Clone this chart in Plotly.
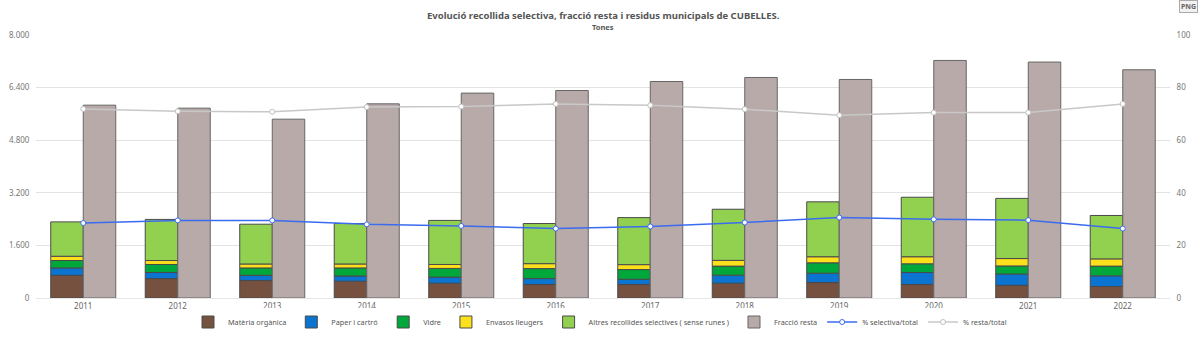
import plotly.graph_objects as go
import numpy as np

years = ["2011", "2012", "2013", "2014", "2015", "2016", "2017", "2018", "2019", "2020", "2021", "2022"]
materia_organica = [690, 590, 530, 510, 450, 410, 410, 450, 470, 410, 385, 350]
paper_cartro = [225, 185, 160, 160, 185, 180, 160, 245, 285, 365, 345, 325]
vidre = [225, 245, 225, 245, 265, 305, 295, 275, 315, 265, 245, 295]
envasos = [130, 120, 120, 120, 120, 150, 150, 175, 185, 215, 225, 220]
altres = [1045, 1250, 1210, 1230, 1340, 1220, 1430, 1555, 1670, 1810, 1830, 1320]
fraccio_resta = [5866, 5775, 5440, 5906, 6232, 6312, 6586, 6708, 6647, 7226, 7177, 6943]
pct_selectiva = [28.5, 29.5, 29.5, 28.0, 27.4, 26.4, 27.2, 28.7, 30.6, 29.9, 29.6, 26.4]
pct_resta = [71.9, 71.0, 70.8, 72.6, 72.8, 73.8, 73.3, 71.8, 69.5, 70.5, 70.5, 73.8]

FONT = "Noto Sans"
W = 0.344
ML, MR, MT, MB = 36, 30, 35, 44

stack = [
    ("Matèria orgànica", materia_organica, "#76513f"),
    ("Paper i cartró", paper_cartro, "#0a74d0"),
    ("Vidre", vidre, "#00a83b"),
    ("Envasos lleugers", envasos, "#fde01c"),
    ("Altres recollides selectives ( sense runes )", altres, "#92d050"),
]

fig = go.Figure()
base = np.zeros(len(years))
for name, vals, col in stack:
    fig.add_trace(go.Bar(
        x=years, y=vals, base=base.copy(), name=name,
        marker=dict(color=col, line=dict(color="#4a4a4a", width=1)),
        width=W, offset=-W,
    ))
    base = base + np.array(vals)

fig.add_trace(go.Bar(
    x=years, y=fraccio_resta, name="Fracció resta",
    marker=dict(color="#b8aaa9", line=dict(color="#666666", width=1)),
    width=W, offset=0,
))

fig.add_trace(go.Scatter(
    x=years, y=pct_selectiva, name="% selectiva/total", yaxis="y2",
    mode="lines+markers",
    line=dict(color="#3b6cf0", width=1.5),
    marker=dict(symbol="circle", size=5, color="white", line=dict(color="#3b6cf0", width=1)),
))
fig.add_trace(go.Scatter(
    x=years, y=pct_resta, name="% resta/total", yaxis="y2",
    mode="lines+markers",
    line=dict(color="#c8c8c8", width=1.5),
    marker=dict(symbol="circle", size=5, color="white", line=dict(color="#c0c0c0", width=1)),
))

plot_h = 342 - MT - MB
plot_w = 1200 - ML - MR

fig.update_layout(
    width=1200, height=342,
    margin=dict(l=ML, r=MR, t=MT, b=MB, autoexpand=False),
    paper_bgcolor="white", plot_bgcolor="white",
    barmode="overlay",
    separators=",.",
    font=dict(family=FONT, size=8, color="#666666"),
    showlegend=True,
    legend=dict(orientation="h", x=0.5, xref="container", xanchor="center",
                y=(342 - 322) / 342, yref="container", yanchor="middle",
                font=dict(size=7.3, color="#555555"), itemwidth=30,
                traceorder="normal", tracegroupgap=0),
    xaxis=dict(type="category", showgrid=False, showline=True, linecolor="#e6e6e6",
               linewidth=1, ticks="", tickfont=dict(size=8, color="#666666"),
               range=[-0.5, 11.5]),
    yaxis=dict(range=[0, 8000], tickvals=[0, 1600, 3200, 4800, 6400, 8000],
               tickformat=",d", gridcolor="#e3e3e3", gridwidth=1, zeroline=False,
               tickfont=dict(size=8, color="#777777"), ticks="outside", ticklen=4,
               tickcolor="white"),
    yaxis2=dict(range=[0, 100], tickvals=[0, 20, 40, 60, 80, 100], overlaying="y",
                side="right", showgrid=False, zeroline=False,
                tickfont=dict(size=8, color="#777777"), ticks="outside", ticklen=4,
                tickcolor="white"),
)

fig.add_annotation(text="<b>Evolució recollida selectiva, fracció resta i residus municipals de CUBELLES.</b>",
                   x=0.5, xref="paper", y=1 + (MT - 15) / plot_h, yref="paper",
                   yanchor="middle", showarrow=False,
                   font=dict(size=9.5, color="#555555", family=FONT))
fig.add_annotation(text="<b>Tones</b>", x=0.5, xref="paper", y=1 + (MT - 27) / plot_h,
                   yref="paper", yanchor="middle", showarrow=False,
                   font=dict(size=7.5, color="#555555", family=FONT))
fig.add_annotation(text="<b>PNG</b>", xref="paper", yref="paper",
                   x=(1188 - ML) / plot_w, y=1 + (MT - 6) / plot_h,
                   xanchor="center", yanchor="middle", showarrow=False,
                   font=dict(size=7, color="#666666", family=FONT),
                   bordercolor="#aaaaaa", borderwidth=1, bgcolor="#f2f2f2", borderpad=1)

fig.write_html("out.html")
